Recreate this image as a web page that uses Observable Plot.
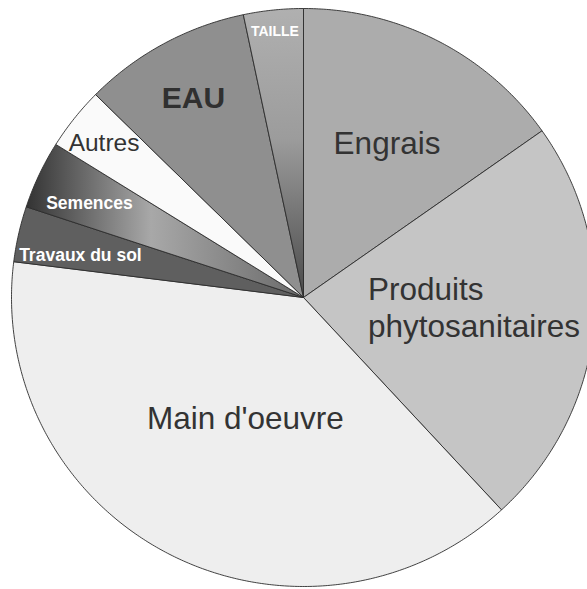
<!DOCTYPE html>
<html>
<head>
<meta charset="utf-8">
<script src="https://cdn.jsdelivr.net/npm/d3@7"></script>
<script src="https://cdn.jsdelivr.net/npm/@observablehq/plot@0.6"></script>
<style>
  html, body { margin: 0; padding: 0; background: #fff; }
</style>
</head>
<body>
<div id="chart"></div>
<script>
// ---- data (percent of total cost), clockwise from 12 o'clock ----
const categories = ["Engrais", "Produits phytosanitaires", "Main d'oeuvre", "Travaux du sol", "Semences", "Autres", "EAU", "TAILLE"];
const values = [15.2, 22.9, 38.8, 3.1, 3.8, 3.5, 9.3, 3.3];
const labelLines = ["Engrais", "Produits\nphytosanitaires", "Main d'oeuvre", "Travaux du sol", "Semences", "Autres", "EAU", "TAILLE"];

// ---- styling ----
const sliceFill = ["#acacac", "#c5c5c5", "#eeeeee", "#5f5f5f", "url(#gSem)", "#fafafa", "#8f8f8f", "url(#gTaille)"];
const labelColor = ["#333333", "#333333", "#333333", "#ffffff", "#ffffff", "#333333", "#303030", "#ffffff"];
const labelSize = [31.5, 31.5, 31.5, 17.5, 17.5, 24.5, 30, 14];
const labelWeight = ["normal", "normal", "normal", "bold", "bold", "normal", "bold", "bold"];
const labelAnchor = ["middle", "start", "middle", "middle", "middle", "middle", "middle", "middle"];
// label placement in the pie's unit coordinates
const labelPlaceX = [0.286, 0.221, -0.199, -0.764, -0.733, -0.683, -0.377, -0.098];
const labelPlaceY = [-0.538, 0.031, 0.413, -0.149, -0.329, -0.538, -0.694, -0.924];

const arcs = d3.pie().sort(null).value(d => d)(values);

function slicePoints(a) {
  const pts = [{x: 0, y: 0}];
  const n = Math.max(2, Math.ceil((a.endAngle - a.startAngle) / (Math.PI / 360)));
  for (let i = 0; i <= n; i++) {
    const t = a.startAngle + (a.endAngle - a.startAngle) * i / n;
    pts.push({x: Math.sin(t), y: -Math.cos(t)});
  }
  pts.push({x: 0, y: 0});
  return pts;
}

const sliceMarks = arcs.map((a, i) =>
  Plot.line(slicePoints(a), {x: "x", y: "y", fill: sliceFill[i], stroke: "#2c2c2c", strokeWidth: 0.9, strokeLinejoin: "round"})
);

const labelMarks = categories.map((c, i) =>
  Plot.text([{x: labelPlaceX[i], y: labelPlaceY[i], t: labelLines[i]}], {
    x: "x", y: "y", text: "t",
    fill: labelColor[i], fontSize: labelSize[i], fontWeight: labelWeight[i],
    textAnchor: labelAnchor[i], lineHeight: 1.18
  })
);

const svg = Plot.plot({
  width: 587,
  height: 589,
  margin: 0,
  x: {domain: [-1, 1], range: [11, 595], axis: null},
  y: {domain: [-1, 1], range: [8, 586], axis: null},
  style: {fontFamily: "'Liberation Sans', Arial, sans-serif", background: "#fff"},
  marks: [...sliceMarks, ...labelMarks]
});

const defs = d3.select(svg).insert("defs", ":first-child");
const gT = defs.append("linearGradient").attr("id", "gTaille")
  .attr("x1", 0).attr("y1", 0).attr("x2", 0).attr("y2", 1);
gT.append("stop").attr("offset", 0).attr("stop-color", "#b0b0b0");
gT.append("stop").attr("offset", 0.45).attr("stop-color", "#9c9c9c");
gT.append("stop").attr("offset", 1).attr("stop-color", "#4a4a4a");
const gS = defs.append("linearGradient").attr("id", "gSem")
  .attr("x1", 0).attr("y1", 0).attr("x2", 1).attr("y2", 0);
gS.append("stop").attr("offset", 0).attr("stop-color", "#333333");
gS.append("stop").attr("offset", 0.45).attr("stop-color", "#a8a8a8");
gS.append("stop").attr("offset", 1).attr("stop-color", "#6a6a6a");

document.getElementById("chart").appendChild(svg);
</script>
</body>
</html>
